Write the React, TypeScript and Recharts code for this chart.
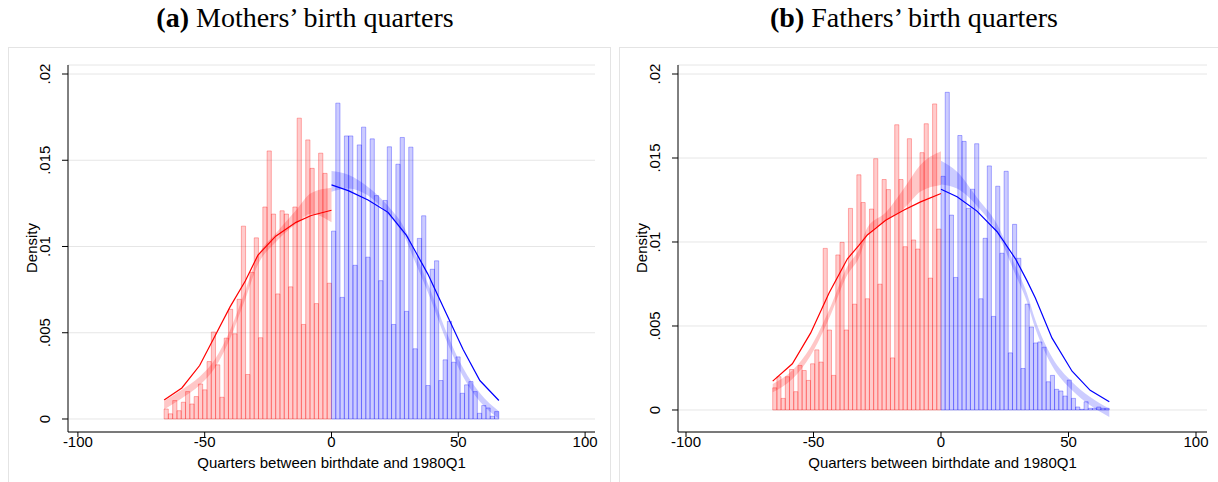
import React from "react";
import { ComposedChart, Bar, Cell, Line, Area, XAxis, YAxis, CartesianGrid } from "recharts";

const xTicks = [-100, -50, 0, 50, 100];
const yTicks = [0, 0.005, 0.01, 0.015, 0.02];
const yTickLabels = ["0", ".005", ".01", ".015", ".02"];
const xTitle = "Quarters between birthdate and 1980Q1";
const yTitle = "Density";

// histogram densities, bins run from -66 to 0 and 0 to 66
const motherBelow = [
  0.00058, 0.0003, 0.00107, 0.00048, 0.00097, 0.00159, 0.00087, 0.0013, 0.00203, 0.00169,
  0.00333, 0.00504, 0.00314, 0.00126, 0.00469, 0.00636, 0.00494, 0.00694, 0.01118, 0.00258,
  0.0085, 0.0105, 0.00471, 0.01229, 0.01554, 0.01188, 0.00725, 0.01207, 0.01188, 0.00766,
  0.01229, 0.01744, 0.00548, 0.01618, 0.01453, 0.00669, 0.01541, 0.01424, 0.00787,
];
const motherAbove = [
  0.01089, 0.01831, 0.00705, 0.01641, 0.01641, 0.00891, 0.01589, 0.01692, 0.00938, 0.01624,
  0.01295, 0.00802, 0.01267, 0.01578, 0.00548, 0.01477, 0.01632, 0.00624, 0.01576, 0.00407,
  0.01047, 0.01178, 0.00194, 0.00868, 0.00917, 0.00223, 0.00343, 0.00566, 0.00329, 0.0036,
  0.00149, 0.00198, 0.00217, 0.00159, 0.00033, 0.00078, 0.00064, 0.00016, 0.00043,
];
const fatherBelow = [
  0.00132, 0.00198, 0.00069, 0.00198, 0.00241, 0.00109, 0.00265, 0.00235, 0.00176, 0.00275,
  0.00358, 0.00285, 0.00962, 0.00476, 0.00206, 0.00923, 0.00998, 0.00476, 0.012, 0.0063,
  0.014, 0.01235, 0.00662, 0.01196, 0.01496, 0.00749, 0.01372, 0.01312, 0.0031, 0.01698,
  0.01372, 0.00972, 0.01615, 0.01012, 0.00958, 0.01532, 0.01704, 0.00785, 0.01822, 0.01077,
];
const fatherAbove = [
  0.01391, 0.01891, 0.0116, 0.00789, 0.01634, 0.01599, 0.012, 0.01314, 0.01585, 0.00662,
  0.01022, 0.01453, 0.00557, 0.01332, 0.00933, 0.01421, 0.0034, 0.01105, 0.00903, 0.00247,
  0.0063, 0.00494, 0.00399, 0.00405, 0.00374, 0.00168, 0.00206, 0.00123, 0.00113, 0.00083,
  0.00178, 0.00069, 0.00018, 0.00004, 0.00049, 0.0001, 0.0001, 0.00018, 0.0001, 0.0001,
];

// fitted curves (dark line) and the pale confidence band
const motherFitBelowX = [-66, -59, -52, -46, -40, -34, -29, -22, -14, -8, 0];
const motherFitBelow = [0.0011, 0.0018, 0.0031, 0.0048, 0.0065, 0.008, 0.0095, 0.0106, 0.0114, 0.0118, 0.0121];
const motherBandBelowLo = [0.00055, 0.0012, 0.00195, 0.00295, 0.00465, 0.00695, 0.00895, 0.01025, 0.0113, 0.0119, 0.0114];
const motherBandBelowHi = [0.00105, 0.0017, 0.00245, 0.00345, 0.00515, 0.00745, 0.00945, 0.01075, 0.0121, 0.0131, 0.0134];

const motherFitAboveX = [0, 6.6, 14.4, 22.3, 29.5, 32, 38, 45.3, 51.9, 58.5, 66];
const motherFitAbove = [0.01357, 0.01324, 0.0127, 0.01198, 0.01066, 0.01, 0.0084, 0.0061, 0.00403, 0.00223, 0.00107];
const motherBandAboveLo = [0.01318, 0.01336, 0.01295, 0.01185, 0.01035, 0.00945, 0.00735, 0.00455, 0.00245, 0.00101, 0.00001];
const motherBandAboveHi = [0.01438, 0.01416, 0.01345, 0.01235, 0.01085, 0.00995, 0.00785, 0.00505, 0.00295, 0.00151, 0.00045];

const fatherFitBelowX = [-66, -58.3, -51.1, -43.9, -36.7, -32.2, -28.9, -21.7, -14.5, -8, 0];
const fatherFitBelow = [0.00172, 0.00275, 0.00459, 0.00696, 0.009, 0.0098, 0.01042, 0.0113, 0.0119, 0.01239, 0.01289];
const fatherBandBelowLo = [0.00105, 0.00185, 0.00325, 0.00545, 0.00805, 0.00905, 0.01035, 0.01125, 0.012, 0.013, 0.0134];
const fatherBandBelowHi = [0.00155, 0.00235, 0.00375, 0.00595, 0.00855, 0.00955, 0.01085, 0.01175, 0.0132, 0.0146, 0.0154];

const fatherFitAboveX = [0, 6.3, 14.1, 22, 29.2, 33.7, 37, 43.5, 51.4, 58.5, 66];
const fatherFitAbove = [0.01314, 0.01269, 0.01184, 0.01061, 0.009, 0.0077, 0.00666, 0.00429, 0.00231, 0.00117, 0.00049];
const fatherBandAboveLo = [0.01343, 0.01318, 0.01215, 0.01055, 0.00805, 0.00645, 0.00485, 0.00265, 0.00117, 0.00028, -0.00041];
const fatherBandAboveHi = [0.01483, 0.01418, 0.01265, 0.01105, 0.00855, 0.00695, 0.00535, 0.00315, 0.00167, 0.00078, 0.00009];

const SANS = "'Liberation Sans', Arial, Helvetica, sans-serif";
const SERIF = "'Liberation Serif', 'Times New Roman', serif";
const RED = "#ff0000";
const BLUE = "#0000ff";

const fitRows = (xs: number[], fit: number[], lo: number[], hi: number[]) =>
  xs.map((x, i) => ({ x, y: fit[i], band: [lo[i], hi[i]] }));

const XTick = (p: any) => (
  <text x={p.x} y={p.y + 8} textAnchor="middle" fontSize={15} fontFamily={SANS} fill="#000">
    {p.payload.value}
  </text>
);

const YTick = (p: any) => {
  const i = yTicks.indexOf(p.payload.value);
  return (
    <text
      transform={`translate(${p.x - 15},${p.y}) rotate(-90)`}
      textAnchor="middle"
      dy="0.35em"
      fontSize={15}
      fontFamily={SANS}
      fill="#000"
    >
      {yTickLabels[i]}
    </text>
  );
};

interface PanelProps {
  left: number;
  width: number;
  rightPad: number;
  xDomain: [number, number];
  yDomain: [number, number];
  below: number[];
  above: number[];
  fitBelow: any[];
  fitAbove: any[];
  tag: string;
  title: string;
}

function Panel({ left, width, rightPad, xDomain, yDomain, below, above, fitBelow, fitAbove, tag, title }: PanelProps) {
  const bins = [
    ...below.map((h, i) => ({ x: -66 + ((i + 0.5) * 66) / below.length, h, side: "below" })),
    ...above.map((h, i) => ({ x: ((i + 0.5) * 66) / above.length, h, side: "above" })),
  ];
  const plotW = width - 68 - rightPad;
  const binPx = ((66 / below.length) * plotW) / (xDomain[1] - xDomain[0]) - 0.1;
  const plotCenter = 68 + plotW / 2;
  const margin = { top: 65, right: rightPad, left: 0, bottom: 0 };
  const layer: React.CSSProperties = { position: "absolute", left: 0, top: 0 };

  return (
    <div style={{ position: "absolute", left, top: 0, width, height: 482 }}>
      <div
        style={{
          position: "absolute",
          left: 0,
          width,
          top: 2,
          textAlign: "center",
          fontFamily: SERIF,
          fontSize: 28,
          lineHeight: "32px",
          color: "#000",
        }}
      >
        <b>{tag}</b> {title}
      </div>
      {/* histogram layer, with axes and grid */}
      <div style={layer}>
        <ComposedChart width={width} height={482} data={bins} margin={margin}>
          <CartesianGrid vertical={false} stroke="#e6e6e6" />
          <XAxis
            type="number"
            dataKey="x"
            domain={xDomain}
            ticks={xTicks}
            allowDataOverflow
            height={50}
            tickSize={5}
            tickMargin={2}
            tick={<XTick />}
            axisLine={{ stroke: "#000" }}
            tickLine={{ stroke: "#000" }}
          />
          <YAxis
            type="number"
            domain={yDomain}
            ticks={yTicks}
            allowDataOverflow
            width={68}
            tickSize={6}
            tickMargin={2}
            tick={<YTick />}
            axisLine={{ stroke: "#000" }}
            tickLine={{ stroke: "#000" }}
          />
          <Bar dataKey="h" barSize={binPx} isAnimationActive={false}>
            {bins.map((b, i) => (
              <Cell
                key={i}
                fill={b.side === "below" ? RED : BLUE}
                fillOpacity={0.2}
                stroke={b.side === "below" ? RED : BLUE}
                strokeOpacity={0.3}
                strokeWidth={1}
              />
            ))}
          </Bar>
        </ComposedChart>
      </div>
      {/* fitted curves layer, same axes */}
      <div style={layer}>
        <ComposedChart width={width} height={482} margin={margin}>
          <XAxis type="number" dataKey="x" domain={xDomain} ticks={xTicks} allowDataOverflow height={50} tick={false} axisLine={false} tickLine={false} />
          <YAxis type="number" domain={yDomain} ticks={yTicks} allowDataOverflow width={68} tick={false} axisLine={false} tickLine={false} />
          <Area data={fitBelow} dataKey="band" type="monotone" stroke="none" fill={RED} fillOpacity={0.22} isAnimationActive={false} />
          <Area data={fitAbove} dataKey="band" type="monotone" stroke="none" fill={BLUE} fillOpacity={0.2} isAnimationActive={false} />
          <Line data={fitBelow} dataKey="y" type="linear" stroke={RED} strokeWidth={1.2} dot={false} isAnimationActive={false} />
          <Line data={fitAbove} dataKey="y" type="linear" stroke={BLUE} strokeWidth={1.2} dot={false} isAnimationActive={false} />
        </ComposedChart>
      </div>
      <div
        style={{
          position: "absolute",
          left: plotCenter - 200,
          width: 400,
          top: 454,
          textAlign: "center",
          fontFamily: SANS,
          fontSize: 15,
          lineHeight: "18px",
        }}
      >
        {xTitle}
      </div>
      <div
        style={{
          position: "absolute",
          left: 32 - 50,
          top: 248 - 9,
          width: 100,
          textAlign: "center",
          fontFamily: SANS,
          fontSize: 15,
          lineHeight: "18px",
          transform: "rotate(-90deg)",
        }}
      >
        {yTitle}
      </div>
    </div>
  );
}

export default function App() {
  return (
    <div style={{ position: "absolute", left: 0, top: 0, width: 1218, height: 482, background: "#fff", overflow: "hidden" }}>
      <div style={{ position: "absolute", left: 8, top: 47, width: 601, height: 460, border: "1px solid #e4e4e4" }} />
      <div style={{ position: "absolute", left: 619, top: 47, width: 620, height: 460, border: "1px solid #e4e4e4" }} />
      <Panel
        left={0}
        width={610}
        rightPad={15}
        xDomain={[-103.9, 103.9]}
        yDomain={[-0.000754, 0.020522]}
        below={motherBelow}
        above={motherAbove}
        fitBelow={fitRows(motherFitBelowX, motherFitBelow, motherBandBelowLo, motherBandBelowHi)}
        fitAbove={fitRows(motherFitAboveX, motherFitAbove, motherBandAboveLo, motherBandAboveHi)}
        tag="(a)"
        title="Mothers’ birth quarters"
      />
      <Panel
        left={610}
        width={608}
        rightPad={11}
        xDomain={[-103.14, 104.31]}
        yDomain={[-0.00131, 0.020536]}
        below={fatherBelow}
        above={fatherAbove}
        fitBelow={fitRows(fatherFitBelowX, fatherFitBelow, fatherBandBelowLo, fatherBandBelowHi)}
        fitAbove={fitRows(fatherFitAboveX, fatherFitAbove, fatherBandAboveLo, fatherBandAboveHi)}
        tag="(b)"
        title="Fathers’ birth quarters"
      />
    </div>
  );
}
